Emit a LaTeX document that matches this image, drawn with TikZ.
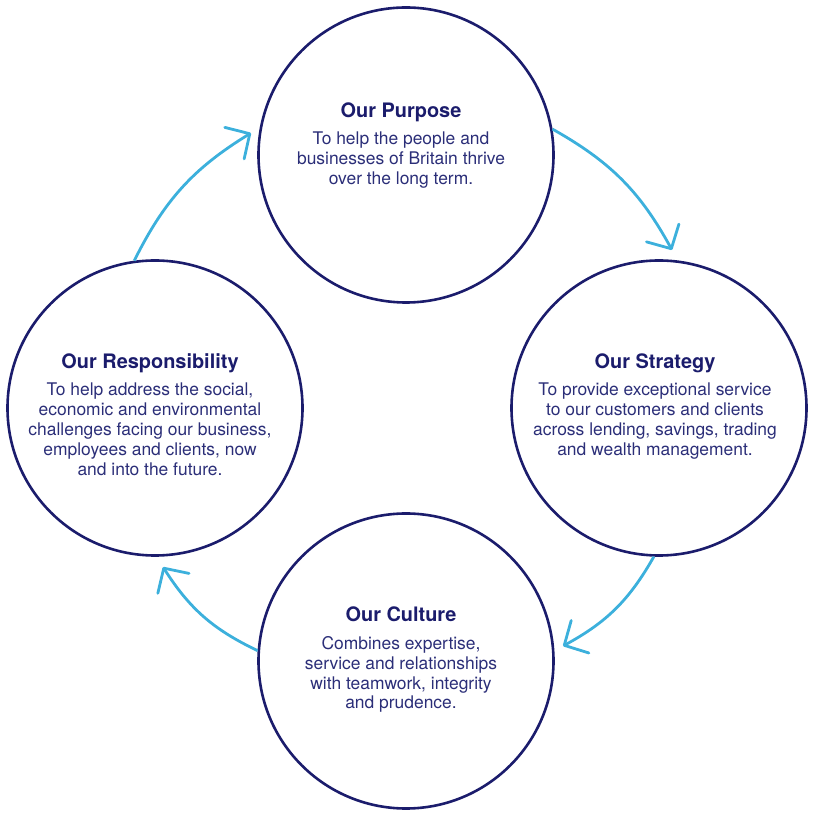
\documentclass[tikz,border=0pt]{standalone}
\usepackage{fontspec}
\setmainfont{TeX Gyre Heros}
\usetikzlibrary{arrows.meta,calc}
\definecolor{navy}{HTML}{1B1C6C}
\definecolor{navytext}{HTML}{2B2E78}
\definecolor{sky}{HTML}{3CB0DC}
\begin{document}
\begin{tikzpicture}[x=1bp,y=1bp,
 ring/.style={circle, draw=navy, line width=2.6bp, minimum size=295bp, inner sep=0pt},
 ttl/.style={anchor=base, inner sep=0pt, text=navy, font=\fontsize{20}{24}\selectfont\bfseries},
 body/.style={anchor=north, inner sep=0pt, align=center, text=navytext, font=\fontsize{17.5}{20}\selectfont},
 flow/.style={draw=sky, line width=2.8bp, -{Straight Barb[length=18bp,width=37bp,round]}, bend left=16}]
\useasboundingbox (0,0) rectangle (813,816);
\node[ring] (top) at (406,661) {};
\node[ring] (right) at (659,408) {};
\node[ring] (bottom) at (406,155) {};
\node[ring] (left) at (155,408) {};

\node[ttl] (ttop) at (401,698) {Our Purpose};
\node[body] (btop) at (401,684) {To help the people and\\businesses of Britain thrive\\over the long term.};
\node[ttl] (tright) at (655,447) {Our Strategy};
\node[body] (bright) at (655,433) {To provide exceptional service\\to our customers and clients\\across lending, savings, trading\\and wealth management.};
\node[ttl] (tbottom) at (401,194) {Our Culture};
\node[body] (bbottom) at (401,180) {Combines expertise,\\service and relationships\\with teamwork, integrity\\and prudence.};
\node[ttl] (tleft) at (150,447) {Our Responsibility};
\node[body] (bleft) at (150,433) {To help address the social,\\economic and environmental\\challenges facing our business,\\employees and clients, now\\and into the future.};

\coordinate (tip1) at (672,566);
\coordinate (tip2) at (563,170);
\coordinate (tip3) at (163,249);
\coordinate (tip4) at (251,683);
\draw[flow] (top.10) to (tip1);
\draw[flow] (right.268) to (tip2);
\draw[flow] (bottom.176) to (tip3);
\draw[flow] (left.98) to (tip4);
\end{tikzpicture}
\end{document}
